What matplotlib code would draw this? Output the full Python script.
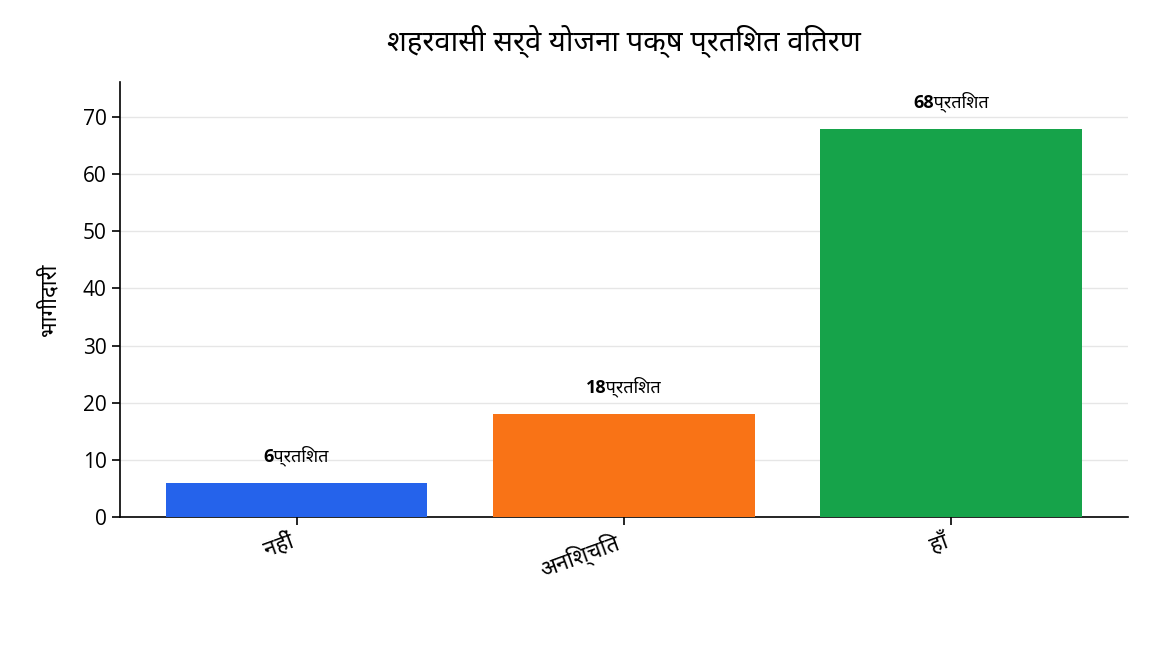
import matplotlib
matplotlib.use('Agg')
import matplotlib.pyplot as plt
import numpy as np

plt.rcParams['font.family'] = ['Open Sans', 'Noto Sans', 'DejaVu Sans']

# survey answers (Hindi)
categories = ['नहीं', 'अनिश्चित', 'हाँ']
values = [6, 18, 68]
unit = 'प्रतिशत'
colors = ['#2563EB', '#F97316', '#16A34A']
title = 'शहरवासी सर्वे योजना पक्ष प्रतिशत वितरण'
ylabel = 'भागीदारी'

fig, ax = plt.subplots(figsize=(11.52, 6.72), dpi=100)
x = np.arange(len(categories))
bars = ax.bar(x, values, width=0.8, color=colors, zorder=3)

for b, v in zip(bars, values):
    ax.annotate(f'{v}{unit}', (b.get_x() + b.get_width() / 2, v),
                xytext=(0, 12), textcoords='offset points',
                ha='center', va='bottom', fontsize=13, fontweight='bold')

ax.set_ylim(0, max(values) * 1.12)
ax.set_xticks(x)
ax.set_xticklabels(categories, rotation=20, ha='right', fontsize=16)
ax.tick_params(axis='y', labelsize=15)
ax.tick_params(axis='both', length=6, width=1.2)
ax.set_ylabel(ylabel, fontsize=16, labelpad=16)
ax.set_title(title, fontsize=21, fontweight='bold', pad=22)

ax.grid(axis='y', color='#e6e6e6', linewidth=1, zorder=0)
ax.spines['top'].set_visible(False)
ax.spines['right'].set_visible(False)
ax.spines['left'].set_linewidth(1.2)
ax.spines['bottom'].set_linewidth(1.2)

fig.subplots_adjust(left=0.104, right=0.979, top=0.878, bottom=0.231)
fig.savefig('out.png')
